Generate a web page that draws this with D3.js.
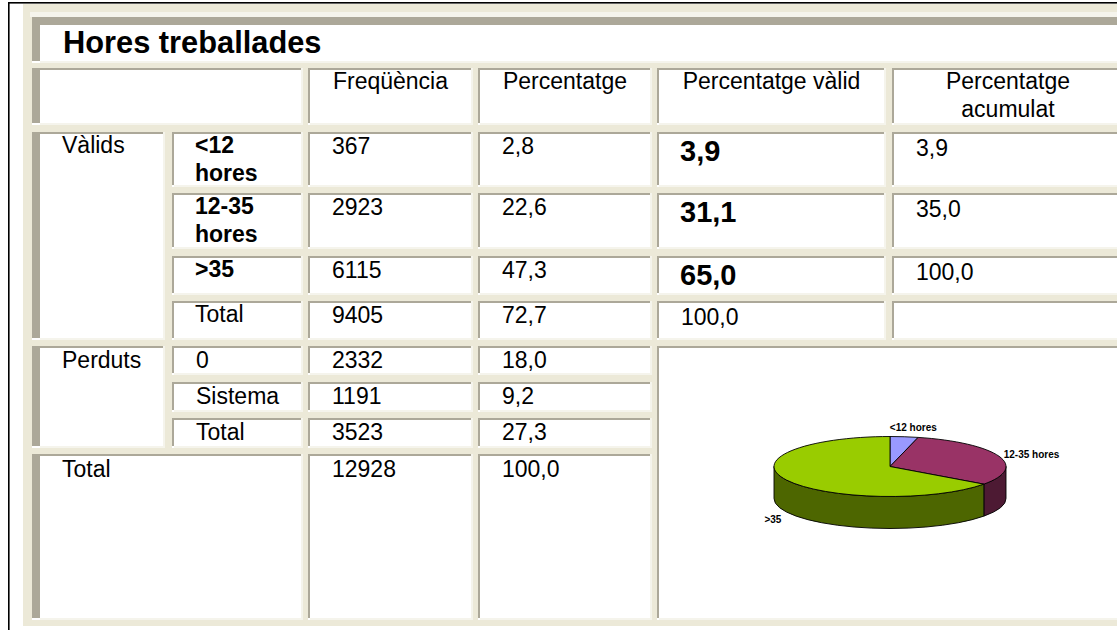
<!DOCTYPE html>
<html><head><meta charset="utf-8">
<script src="https://cdn.jsdelivr.net/npm/d3@7"></script>
<style>html,body{margin:0;padding:0;background:#fff;overflow:hidden}svg{display:block}</style>
</head><body><svg id="c" width="1117" height="630"></svg>
<script>
// ---------- data ----------
const title = "Hores treballades";
const headers = ["Freqüència", "Percentatge", "Percentatge vàlid", "Percentatge acumulat"];
const groupLabels = ["Vàlids", "Perduts", "Total"];
const categories = ["<12 hores", "12-35 hores", ">35"];
const freq = [367, 2923, 6115];
const percent = [2.8, 22.6, 47.3];
const validPercent = [3.9, 31.1, 65.0];
const cumulativePercent = [3.9, 35.0, 100.0];
const validTotal = [9405, 72.7, 100.0];
const missingLabels = ["0", "Sistema", "Total"];
const missingFreq = [2332, 1191, 3523];
const missingPercent = [18.0, 9.2, 27.3];
const grandTotal = [12928, 100.0];
const sliceColors = ["#9999FF", "#993366", "#99CC00"];
const sideColors = ["#4D4D80", "#4D1A33", "#4D6600"];

// ---------- layout ----------
const GRAY = "#ACA899", LIGHT = "#F5F4EC", CREAM = "#ECE9D8";
const FONT = "'Liberation Sans', Arial, sans-serif";
const FS = 23, FSB = 29;
const cols = [[32,165],[172,303],[308,473],[478,652],[657,886],[892,1124]];
const titleRow = [17,63], headRow = [68,125];
const vRows = [[132,187],[193,249],[256,295],[301,340]];
const mRows = [[346,375],[382,412],[418,448]];
const gRow = [454,620];

const svg = d3.select("#c");
const fmt1 = d3.formatLocale({decimal: ",", thousands: ".", grouping: [3], currency: ["",""]}).format(".1f");
const fmtI = d3.format("d");

// background
svg.append("rect").attr("x",0).attr("y",0).attr("width",1117).attr("height",630).attr("fill","#fff");
svg.append("rect").attr("x",23).attr("y",4).attr("width",1094).attr("height",622).attr("fill",CREAM);
svg.append("rect").attr("x",30).attr("y",12).attr("width",1087).attr("height",5).attr("fill",LIGHT);
svg.append("rect").attr("x",8).attr("y",2).attr("width",1109).attr("height",1.6).attr("fill","#000");
svg.append("rect").attr("x",8).attr("y",2).attr("width",1.6).attr("height",628).attr("fill","#000");

const g = svg.append("g");
function cell(x0, y0, x1, y1, lw = 2, tw = 2) {
  const w = x1 - x0, h = y1 - y0;
  g.append("rect").attr("x",x0).attr("y",y0).attr("width",w).attr("height",h).attr("fill","#fff");
  g.append("rect").attr("x",x0+lw).attr("y",y1-2).attr("width",w-lw).attr("height",2).attr("fill",LIGHT);
  g.append("rect").attr("x",x1-2).attr("y",y0).attr("width",2).attr("height",h).attr("fill",LIGHT);
  g.append("rect").attr("x",x0).attr("y",y0).attr("width",w-2).attr("height",tw).attr("fill",GRAY);
  g.append("rect").attr("x",x0).attr("y",y0).attr("width",lw).attr("height",h-2).attr("fill",GRAY);
}
function text(str, x, y, opt = {}) {
  const t = g.append("text").attr("x",x).attr("y",y)
    .attr("font-family",FONT).attr("font-size",opt.size||FS)
    .attr("font-weight",opt.bold?"bold":"normal")
    .attr("text-anchor",opt.anchor||"start").attr("fill","#000");
  const maxW = opt.maxW || 1e9;
  t.text(str);
  if (t.node().getComputedTextLength() > maxW && str.includes(" ")) {
    t.text(null);
    str.split(" ").forEach((w,i) => t.append("tspan").attr("x",x).attr("dy", i ? 28 : 0).text(w));
  }
  return t;
}

// title
cell(cols[0][0], titleRow[0], cols[5][1], titleRow[1], 8, 8);
text(title, 63, 53, {bold:true, size:30.8});

// header row
cell(cols[0][0], headRow[0], cols[1][1], headRow[1], 8);
headers.forEach((h,i) => {
  const c = cols[i+2];
  cell(c[0], headRow[0], c[1], headRow[1]);
  text(h, (c[0]+c[1])/2, headRow[0]+21, {anchor:"middle", maxW:(c[1]-c[0])-38});
});

// valid group
cell(cols[0][0], vRows[0][0], cols[0][1], vRows[3][1], 8);
text(groupLabels[0], cols[0][0]+30, vRows[0][0]+21);
const vLabels = categories.concat(["Total"]);
const vF = freq.concat([validTotal[0]]);
const vP = percent.concat([validTotal[1]]);
const vV = validPercent.concat([validTotal[2]]);
vRows.forEach((r,i) => {
  const isCat = i < categories.length;
  for (let c = 1; c < 6; c++) cell(cols[c][0], r[0], cols[c][1], r[1]);
  text(vLabels[i], cols[1][0]+23, r[0]+21, {bold:isCat, maxW:(cols[1][1]-cols[1][0])-38});
  text(fmtI(vF[i]), cols[2][0]+24, r[0]+22);
  text(fmt1(vP[i]), cols[3][0]+24, r[0]+22);
  if (isCat) text(fmt1(vV[i]), cols[4][0]+23, r[0]+28.5, {bold:true, size:FSB});
  else text(fmt1(vV[i]), cols[4][0]+24, r[0]+23.5);
  if (isCat) text(fmt1(cumulativePercent[i]), cols[5][0]+24, r[0]+23.5);
});

// missing group
cell(cols[0][0], mRows[0][0], cols[0][1], mRows[2][1], 8);
text(groupLabels[1], cols[0][0]+30, mRows[0][0]+22);
mRows.forEach((r,i) => {
  for (let c = 1; c < 4; c++) cell(cols[c][0], r[0], cols[c][1], r[1]);
  text(missingLabels[i], cols[1][0]+24, r[0]+22, {maxW:(cols[1][1]-cols[1][0])-30});
  text(fmtI(missingFreq[i]), cols[2][0]+24, r[0]+22);
  text(fmt1(missingPercent[i]), cols[3][0]+24, r[0]+22);
});

// grand total
cell(cols[0][0], gRow[0], cols[1][1], gRow[1], 8);
text(groupLabels[2], cols[0][0]+30, gRow[0]+22.5);
cell(cols[2][0], gRow[0], cols[2][1], gRow[1]);
cell(cols[3][0], gRow[0], cols[3][1], gRow[1]);
text(fmtI(grandTotal[0]), cols[2][0]+24, gRow[0]+22.5);
text(fmt1(grandTotal[1]), cols[3][0]+24, gRow[0]+22.5);

// pie cell
cell(cols[4][0], mRows[0][0], cols[5][1], gRow[1]);

// ---------- 3D pie ----------
const cx = 890, cy = 466.5, rx = 116, ry = 30, depth = 32;
const pie = d3.pie().sort(null).startAngle(0).endAngle(2*Math.PI)(validPercent);
const P = (a, dz = 0) => [cx + rx*Math.sin(a), cy - ry*Math.cos(a) + dz];
const pg = svg.append("g").attr("stroke","#000").attr("stroke-width",0.9).attr("stroke-linejoin","round");
pie.forEach((d,i) => {
  const s = Math.max(d.startAngle, Math.PI/2), e = Math.min(d.endAngle, 3*Math.PI/2);
  if (e <= s) return;
  const [x0,y0] = P(s), [x1,y1] = P(e), [x2,y2] = P(e,depth), [x3,y3] = P(s,depth);
  const la = (e - s) > Math.PI ? 1 : 0;
  pg.append("path").attr("fill", sideColors[i])
    .attr("d", `M${x0},${y0}A${rx},${ry} 0 ${la} 1 ${x1},${y1}L${x2},${y2}A${rx},${ry} 0 ${la} 0 ${x3},${y3}Z`);
});
pie.forEach((d,i) => {
  const [x0,y0] = P(d.startAngle), [x1,y1] = P(d.endAngle);
  const la = (d.endAngle - d.startAngle) > Math.PI ? 1 : 0;
  pg.append("path").attr("fill", sliceColors[i])
    .attr("d", `M${cx},${cy}L${x0},${y0}A${rx},${ry} 0 ${la} 1 ${x1},${y1}Z`);
});
pie.forEach((d,i) => {
  const m = (d.startAngle + d.endAngle)/2, s = Math.sin(m), c = Math.cos(m);
  const x = cx + rx*1.08*s + (Math.abs(s) < 0.3 ? 8 : (s > 0 ? -4 : 3));
  const y = cy - ry*1.08*c + (c < 0 ? depth + 7 : 0) + (Math.abs(s) < 0.3 ? -3 : 3);
  svg.append("text").attr("x",x).attr("y",y)
    .attr("font-family",FONT).attr("font-size",10).attr("font-weight","bold")
    .attr("text-anchor", Math.abs(s) < 0.3 ? "middle" : (s > 0 ? "start" : "end"))
    .attr("fill","#000").text(categories[i]);
});
</script></body></html>
